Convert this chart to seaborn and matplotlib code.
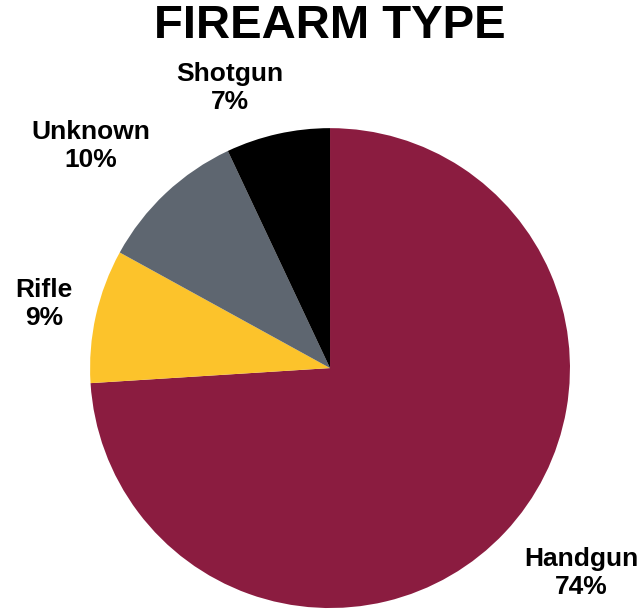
import matplotlib
matplotlib.use('Agg')
import matplotlib.pyplot as plt
import seaborn as sns
import numpy as np

# data
categories = ['Handgun', 'Rifle', 'Unknown', 'Shotgun']
shares = [74, 9, 10, 7]
colors = ['#8B1C40', '#FCC32B', '#5E6670', '#000000']

sns.set_theme(style='white')
plt.rcParams['font.family'] = ['Liberation Sans', 'DejaVu Sans']

fig = plt.figure(figsize=(6.43, 6.09), dpi=100)
ax = fig.add_axes([0.1400, 0.0016, 0.7465, 0.788])

wedges, _ = ax.pie(shares, colors=colors, startangle=90, counterclock=False,
                   wedgeprops=dict(linewidth=0))
ax.set_xlim(-1, 1)
ax.set_ylim(-1, 1)

# label placement (distance from centre, angle nudge) per slice
label_dist = [1.35, 1.22, 1.36, 1.24]
label_nudge = [4, 0, 4, 7]
for w, cat, val, d, nd in zip(wedges, categories, shares, label_dist, label_nudge):
    mid = np.deg2rad((w.theta1 + w.theta2) / 2 + nd)
    ax.text(d * np.cos(mid), d * np.sin(mid), f'{cat}\n{val}%',
            ha='center', va='center', fontsize=19, fontweight='bold',
            color='black', linespacing=1.22, clip_on=False)

fig.text(0.513, 0.957, 'FIREARM TYPE', ha='center', va='center',
         fontsize=34, fontweight='bold', color='black')

fig.savefig('out.png', dpi=100)
